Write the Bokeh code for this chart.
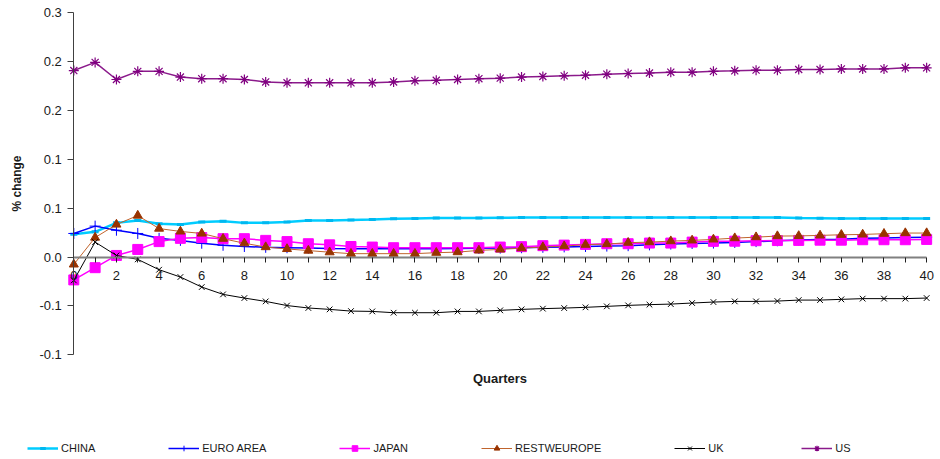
from bokeh.plotting import figure
from bokeh.models import (LinearAxis, FixedTicker, PrintfTickFormatter, Range1d,
                          Legend, LegendItem)
from bokeh.embed import file_html
from bokeh.resources import INLINE

quarters = list(range(41))

china = [0.028, 0.031, 0.042, 0.045, 0.041, 0.040, 0.043, 0.044, 0.042, 0.042,
         0.043, 0.045, 0.045, 0.0455, 0.046, 0.047, 0.0475, 0.048, 0.048, 0.048,
         0.0483, 0.0485, 0.0485, 0.0485, 0.0485, 0.0485, 0.0485, 0.0485, 0.0485, 0.0485,
         0.0485, 0.0485, 0.0485, 0.0485, 0.048, 0.0478, 0.0475, 0.0475, 0.0475, 0.0475,
         0.0475]
euro_area = [0.029, 0.038, 0.033, 0.029, 0.023, 0.0205, 0.017, 0.0145, 0.013, 0.012,
             0.0115, 0.011, 0.0105, 0.0103, 0.0102, 0.0102, 0.0102, 0.0103, 0.0105, 0.0107,
             0.011, 0.0115, 0.012, 0.0125, 0.013, 0.0135, 0.014, 0.015, 0.016, 0.0167,
             0.0172, 0.018, 0.019, 0.020, 0.021, 0.0215, 0.022, 0.023, 0.0235, 0.024,
             0.0245]
japan = [-0.028, -0.013, 0.002, 0.0094, 0.019, 0.023, 0.024, 0.0226, 0.0226, 0.0205,
         0.019, 0.0164, 0.015, 0.013, 0.0123, 0.0115, 0.0115, 0.0115, 0.0115, 0.0115,
         0.0123, 0.0128, 0.014, 0.0147, 0.0156, 0.0164, 0.0164, 0.0172, 0.0172, 0.0184,
         0.0193, 0.0195, 0.0201, 0.0203, 0.0205, 0.0208, 0.0208, 0.0213, 0.0213, 0.0213,
         0.0217]
restweurope = [-0.009, 0.024, 0.040, 0.051, 0.035, 0.0315, 0.029, 0.0226, 0.017, 0.0123,
               0.010, 0.008, 0.006, 0.0042, 0.0042, 0.0042, 0.0042, 0.0054, 0.0061, 0.0082,
               0.0094, 0.011, 0.0123, 0.0135, 0.0152, 0.016, 0.0177, 0.0184, 0.0196, 0.0205,
               0.0217, 0.0233, 0.0245, 0.0258, 0.026, 0.0266, 0.0274, 0.0278, 0.0287, 0.0295,
               0.0295]
uk = [-0.0286, 0.0184, 0.002, -0.0028, -0.0155, -0.0245, -0.0368, -0.0458, -0.0503, -0.0544,
      -0.0595, -0.0625, -0.0642, -0.0663, -0.0667, -0.0683, -0.0683, -0.0683, -0.0667, -0.0667,
      -0.0654, -0.0642, -0.0633, -0.0626, -0.0617, -0.0605, -0.0593, -0.0584, -0.0577, -0.0564,
      -0.0552, -0.0544, -0.0544, -0.054, -0.0528, -0.0528, -0.0519, -0.051, -0.051, -0.051,
      -0.0503]
us = [0.229, 0.239, 0.218, 0.228, 0.228, 0.221, 0.219, 0.219, 0.218, 0.215,
      0.214, 0.214, 0.214, 0.214, 0.214, 0.215, 0.2165, 0.217, 0.218, 0.219,
      0.2197, 0.221, 0.2217, 0.2225, 0.2233, 0.2245, 0.2254, 0.226, 0.227, 0.227,
      0.228, 0.2287, 0.2295, 0.2295, 0.2303, 0.2303, 0.231, 0.231, 0.231, 0.2324,
      0.2324]

y_ticks = [-0.12, -0.06, 0, 0.06, 0.12, 0.18, 0.24, 0.3]
y_min, y_max = -0.12, 0.3
x_min, x_max = 0, 40
x_label_every = 2

FONT = "Liberation Sans"
TXT = "#1a1a1a"

p = figure(width=940, height=459, output_backend="svg", toolbar_location=None,
           x_range=Range1d(-3.438, 40.65), y_range=Range1d(-0.2485, 0.315),
           x_axis_type=None, y_axis_type=None,
           min_border_left=0, min_border_right=0, min_border_top=0,
           min_border_bottom=0)
p.outline_line_color = None
p.background_fill_color = "white"
p.border_fill_color = "white"

# y axis at x = 0
yax = LinearAxis(fixed_location=0, bounds=(y_min, y_max),
                 ticker=FixedTicker(ticks=y_ticks, minor_ticks=[]),
                 formatter=PrintfTickFormatter(format="%.1f"),
                 axis_label="% change",
                 axis_label_text_font=FONT, axis_label_text_font_style="bold",
                 axis_label_text_font_size="12px", axis_label_text_color=TXT,
                 axis_label_standoff=12,
                 major_label_text_font=FONT, major_label_text_font_size="13px",
                 major_label_text_color=TXT, major_label_standoff=6,
                 axis_line_color="#404040", axis_line_width=1,
                 major_tick_line_color="#404040", major_tick_out=6, major_tick_in=0)
p.add_layout(yax, "left")

# x axis crossing at y = 0
overrides = {q: "" for q in quarters if q % x_label_every != 0}
xax = LinearAxis(fixed_location=0, bounds=(x_min, x_max),
                 ticker=FixedTicker(ticks=quarters, minor_ticks=[]),
                 major_label_overrides=overrides,
                 major_label_text_font=FONT, major_label_text_font_size="13px",
                 major_label_text_color=TXT, major_label_standoff=9,
                 axis_line_color="#808080", axis_line_width=2,
                 major_tick_line_color="#202020", major_tick_out=5, major_tick_in=0)
p.add_layout(xax, "below")

# "Quarters" title under the plot area
xlab = LinearAxis(fixed_location=y_min, bounds=(x_min, x_max),
                  ticker=FixedTicker(ticks=[], minor_ticks=[]),
                  axis_label="Quarters", axis_line_color=None,
                  major_tick_line_color=None, minor_tick_line_color=None,
                  major_label_text_font_size="0px",
                  axis_label_text_font=FONT, axis_label_text_font_style="bold",
                  axis_label_text_font_size="13px", axis_label_text_color=TXT,
                  axis_label_standoff=16)
p.add_layout(xlab, "below")

series = [
    ("CHINA", china, dict(color="#00CCFF", width=2.5),
     dict(marker="dash", size=7, line_color="#00B8F0", fill_color="#00B8F0", line_width=3)),
    ("EURO AREA", euro_area, dict(color="#0000FF", width=1.5),
     dict(marker="cross", size=11, line_color="#0000FF", line_width=1)),
    ("JAPAN", japan, dict(color="#FF00FF", width=1.5),
     dict(marker="square", size=10, line_color="#FF00FF", fill_color="#FF00FF")),
    ("RESTWEUROPE", restweurope, dict(color="#C0642D", width=1),
     dict(marker="triangle", size=9, line_color="#993300", fill_color="#993300")),
    ("UK", uk, dict(color="#000000", width=1),
     dict(marker="x", size=8, line_color="#000000", line_width=1)),
    ("US", us, dict(color="#8B1A8B", width=1.5),
     dict(marker="asterisk", size=10, line_color="#800080", line_width=1.2)),
]

items = []
for name, vals, lkw, mkw in series:
    rl = p.line(quarters, vals, line_color=lkw["color"], line_width=lkw["width"])
    rm = p.scatter(quarters, vals, **mkw)
    items.append(LegendItem(label=name, renderers=[rl, rm]))

legend = Legend(items=items, orientation="horizontal", location=(27, 4),
                spacing=73, glyph_width=31, glyph_height=14, label_height=14,
                label_standoff=3, padding=0, margin=0,
                border_line_color=None, background_fill_alpha=0,
                label_text_font=FONT, label_text_font_size="11px",
                label_text_color=TXT)
p.add_layout(legend)

open("out.html", "w").write(file_html(p, INLINE))
